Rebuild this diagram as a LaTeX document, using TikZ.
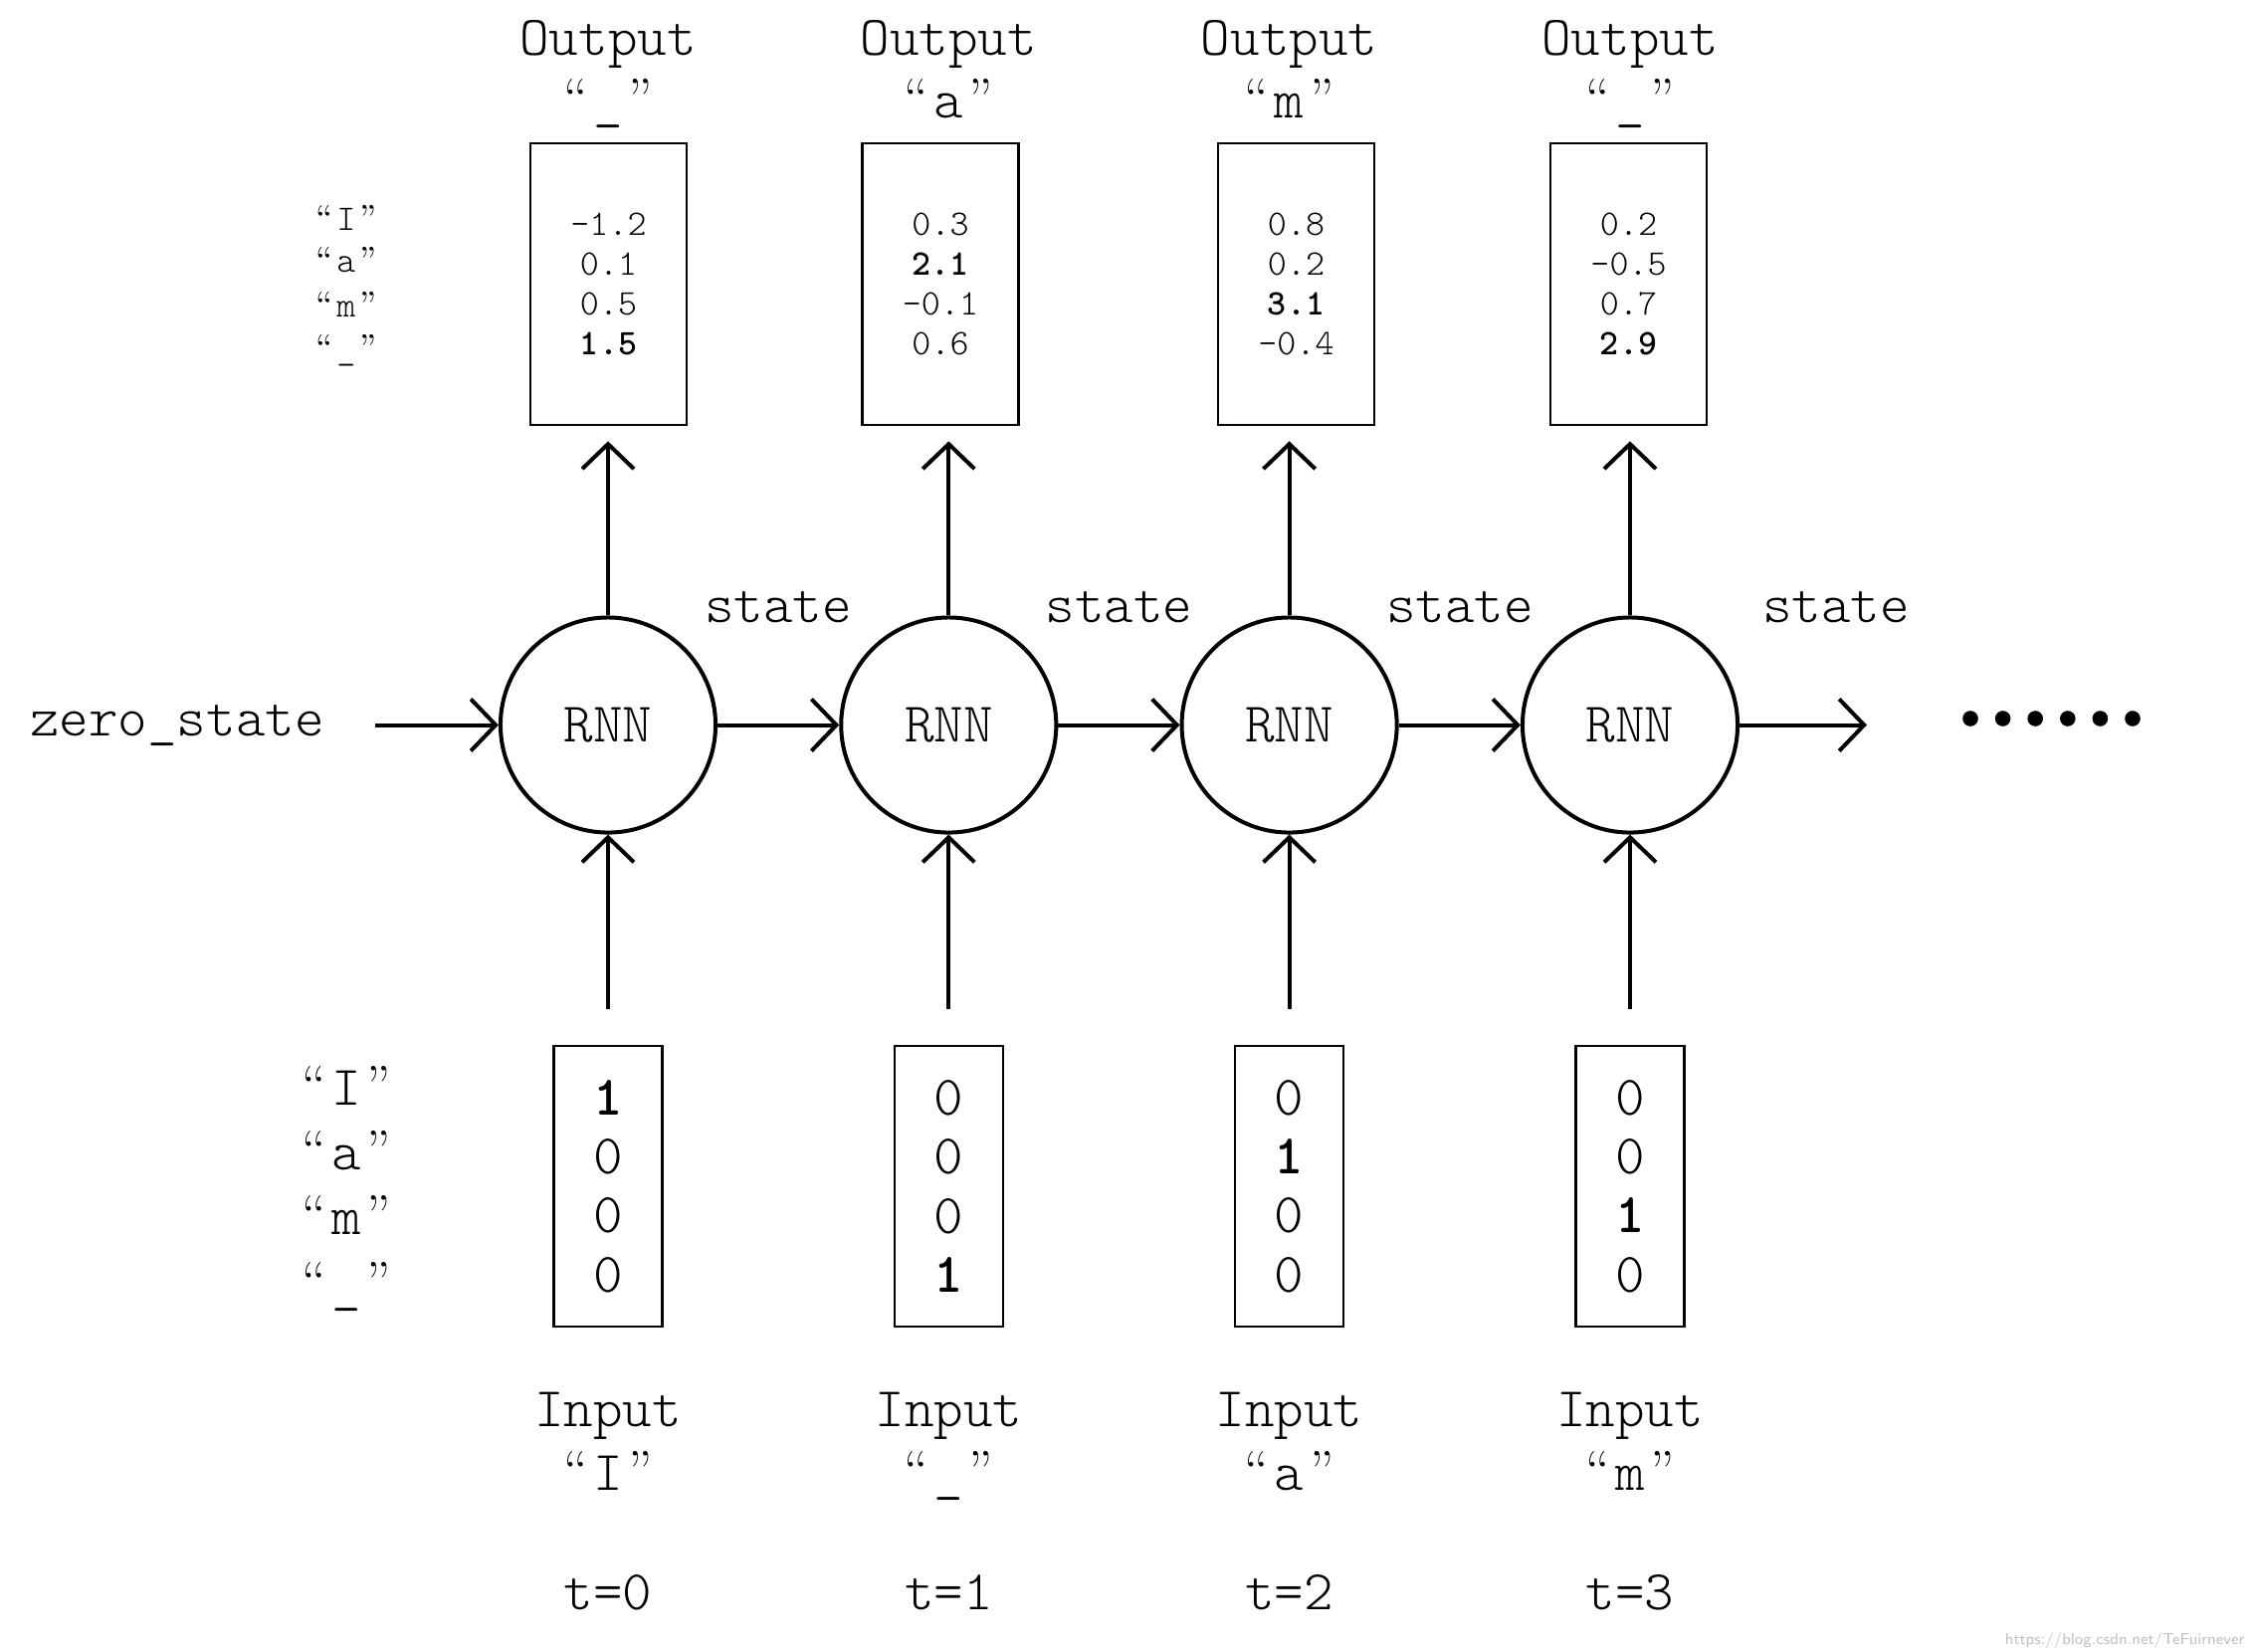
\documentclass[tikz,border=0pt]{standalone}
\usetikzlibrary{arrows.meta}
\newcommand\myq[1]{{\rmfamily\mdseries “}\kern0.1em#1\kern0.1em{\rmfamily\mdseries ”}}
\tikzset{
  bigf/.style={font=\ttfamily\fontseries{l}\fontsize{16}{16.9}\selectfont},
  smallf/.style={font=\ttfamily\fontseries{l}\fontsize{10.3}{11.4}\selectfont},
  rnn/.style={circle, draw, line width=0.04cm, minimum size=2.16cm, inner sep=0pt, bigf},
  obox/.style={draw, line width=0.025cm, minimum width=1.57cm, minimum height=2.83cm, inner sep=0pt, align=center, smallf},
  ibox/.style={draw, line width=0.025cm, minimum width=1.09cm, minimum height=2.82cm, inner sep=0pt, align=center, bigf},
  arr/.style={line width=0.04cm, -{Straight Barb[length=0.25cm,width=0.52cm]}},
  lbl/.style={anchor=base, inner sep=0pt}
}
\begin{document}
\begin{tikzpicture}[x=0.01cm,y=-0.01cm]
\useasboundingbox (0,0) rectangle (2263,1659);

% RNN cells
\node[rnn] (c1) at (611,728.5) {RNN};
\node[rnn] (c2) at (953.3,728.5) {RNN};
\node[rnn] (c3) at (1295.6,728.5) {RNN};
\node[rnn] (c4) at (1638,728.5) {RNN};

% output boxes
\node[obox] (o1) at (611.5,285.5) {-1.2\\0.1\\0.5\\\textbf{1.5}};
\node[obox] (o2) at (945,285.5) {0.3\\\textbf{2.1}\\-0.1\\0.6};
\node[obox] (o3) at (1302.5,285.5) {0.8\\0.2\\\textbf{3.1}\\-0.4};
\node[obox] (o4) at (1636.5,285.5) {0.2\\-0.5\\0.7\\\textbf{2.9}};

% input boxes
\node[ibox] (i1) at (611,1192) {\textbf{1}\\0\\0\\0};
\node[ibox] (i2) at (953.3,1192) {0\\0\\0\\\textbf{1}};
\node[ibox] (i3) at (1295.6,1192) {0\\\textbf{1}\\0\\0};
\node[ibox] (i4) at (1638,1192) {0\\0\\\textbf{1}\\0};

% output labels
\node[lbl,bigf] (ol1) at (611,55) {Output};
\node[lbl,bigf] (ol2) at (953.3,55) {Output};
\node[lbl,bigf] (ol3) at (1295.6,55) {Output};
\node[lbl,bigf] (ol4) at (1638,55) {Output};
\node[lbl,bigf] (oq1) at (611,118) {\myq{\_}};
\node[lbl,bigf] (oq2) at (953.3,118) {\myq{a}};
\node[lbl,bigf] (oq3) at (1295.6,118) {\myq{m}};
\node[lbl,bigf] (oq4) at (1638,118) {\myq{\_}};

% output side vocabulary
\node[lbl,smallf] (ov1) at (348,231) {\myq{I}};
\node[lbl,smallf] (ov2) at (348,273) {\myq{a}};
\node[lbl,smallf] (ov3) at (348,318) {\myq{m}};
\node[lbl,smallf] (ov4) at (348,361) {\myq{\_}};

% input side vocabulary
\node[lbl,bigf] (iv1) at (348.5,1110) {\myq{I}};
\node[lbl,bigf] (iv2) at (348.5,1175) {\myq{a}};
\node[lbl,bigf] (iv3) at (348.5,1240) {\myq{m}};
\node[lbl,bigf] (iv4) at (348.5,1307) {\myq{\_}};

% input labels
\node[lbl,bigf] (il1) at (611,1433) {Input};
\node[lbl,bigf] (il2) at (953.3,1433) {Input};
\node[lbl,bigf] (il3) at (1295.6,1433) {Input};
\node[lbl,bigf] (il4) at (1638,1433) {Input};
\node[lbl,bigf] (iq1) at (611,1497) {\myq{I}};
\node[lbl,bigf] (iq2) at (953.3,1497) {\myq{\_}};
\node[lbl,bigf] (iq3) at (1295.6,1497) {\myq{a}};
\node[lbl,bigf] (iq4) at (1638,1497) {\myq{m}};
\node[lbl,bigf] (t1) at (611,1617) {t=0};
\node[lbl,bigf] (t2) at (953.3,1617) {t=1};
\node[lbl,bigf] (t3) at (1295.6,1617) {t=2};
\node[lbl,bigf] (t4) at (1638,1617) {t=3};

% state labels
\node[lbl,bigf] (zs) at (178,739) {zero\_state};
\node[lbl,bigf] (s1) at (782,625) {state};
\node[lbl,bigf] (s2) at (1124.5,625) {state};
\node[lbl,bigf] (s3) at (1467,625) {state};
\node[lbl,bigf] (s4) at (1845,625) {state};

% connectors
\coordinate (zsa) at (377,728.5);
\coordinate (endc) at (1876,728.5);
\draw[arr] (zsa) -- (c1.west);
\draw[arr] (c1.east) -- (c2.west);
\draw[arr] (c2.east) -- (c3.west);
\draw[arr] (c3.east) -- (c4.west);
\draw[arr] (c4.east) -- (endc);
\foreach \n in {1,2,3,4}{
  \draw[arr, shorten >=0.15cm] (c\n.north) -- (c\n.north |- o\n.south);
  \draw[arr, shorten <=0.36cm] (i\n.north) -- (c\n.south);
}

% continuation dots
\foreach \k in {0,...,5}
  \fill (1980+32.6*\k,722) circle (0.078cm);

% watermark
\node[anchor=base east, inner sep=0pt, text=black!25, font=\sffamily\fontsize{4.5}{5}\selectfont] (wm) at (2256,1652) {https://blog.csdn.net/TeFuirnever};
\end{tikzpicture}
\end{document}
